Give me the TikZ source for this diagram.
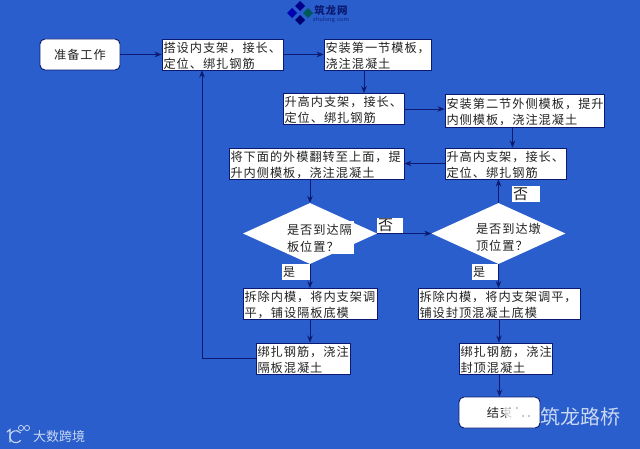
\documentclass[tikz,border=0pt]{standalone}
\usepackage{fontspec}
\usepackage{xcolor}
\usetikzlibrary{arrows.meta,shapes.geometric}
\newfontfamily\cjk[LetterSpace=8]{Noto Sans CJK SC}
\newfontfamily\cjkplain{Noto Sans CJK SC}
\definecolor{pagebg}{HTML}{2A5ECC}
\definecolor{navyline}{HTML}{0B1A70}
\definecolor{inktext}{HTML}{222222}
\definecolor{markpale}{HTML}{C9D8F2}
\newcommand{\zhcomma}{\char"FF0C\relax}
\newcommand{\zhask}{\char"FF1F\relax}
\tikzset{
  procbox/.style 2 args={draw=navyline, fill=white, line width=0.9pt, inner xsep=1.5pt, inner ysep=0pt,
    text width={#1pt-3pt}, minimum height=#2pt, align=left, text=inktext,
    font=\cjk\fontsize{12.2}{16}\selectfont},
  termbox/.style 2 args={draw=navyline, fill=white, line width=0.9pt, rounded corners=5pt, inner sep=0pt,
    minimum width=#1pt, minimum height=#2pt, text=inktext, font=\cjk\fontsize{12.2}{16}\selectfont},
  decision/.style={diamond, fill=white, inner sep=0pt, minimum width=134pt, minimum height=61pt},
  asktext/.style={inner sep=0pt, text width=67pt, align=left, text=inktext,
    font=\cjk\fontsize{12.2}{17}\selectfont},
  tagbox/.style 2 args={fill=white, inner xsep=1pt, inner ysep=0pt, minimum width=#1pt, minimum height=#2pt,
    text width={#1pt-2pt}, align=left, text=inktext},
  flow/.style={draw=navyline, line width=0.9pt, -{Stealth[length=7pt,width=5.5pt]}},
  markpen/.style={draw=markpale, line width=1.1pt, line cap=round}
}
\newcommand{\flowbox}[6]{%
  \node[procbox={#4}{#5}] (#1) at (#2,#3) {\rule{0pt}{13pt}#6};
}
\begin{document}
\begin{tikzpicture}[x=1pt,y=-1pt]
  \fill[pagebg] (0,0) rectangle (640,449);
  \useasboundingbox (0,0) rectangle (640,449);

  \node[termbox={80}{31}] (prep) at (80,54.5) {准备工作};
  \flowbox{erect}{222.5}{54.5}{121}{31}{搭设内支架\zhcomma 接长、\\定位、绑扎钢筋}
  \flowbox{first}{377.5}{54.5}{107}{31}{安装第一节模板\zhcomma\\浇注混凝土}
  \flowbox{liftone}{343.5}{109}{121}{31}{升高内支架\zhcomma 接长、\\定位、绑扎钢筋}
  \flowbox{second}{524.5}{110.5}{159}{33}{安装第二节外侧模板\zhcomma 提升\\内侧模板\zhcomma 浇注混凝土}
  \flowbox{lifttwo}{505.5}{163.5}{121}{31}{升高内支架\zhcomma 接长、\\定位、绑扎钢筋}
  \flowbox{flip}{316.5}{163.5}{175}{31}{将下面的外模翻转至上面\zhcomma 提\\升内侧模板\zhcomma 浇注混凝土}

  \node[decision] (asklow) at (310,233.5) {};
  \node[decision] (asktop) at (498.5,233.5) {};
  \node[asktext, fill=white, minimum height=33pt] (asklowtext) at (320.5,238) {是否到达隔\\板位置\zhask};
  \node[asktext] (asktoptext) at (509.5,237) {是否到达墩\\顶位置\zhask};

  \flowbox{striplow}{310}{304}{134}{31}{拆除内模\zhcomma 将内支架调\\平\zhcomma 铺设隔板底模}
  \flowbox{barlow}{303}{358.5}{94}{31}{绑扎钢筋\zhcomma 浇注\\隔板混凝土}
  \flowbox{striptop}{499}{304}{162}{31}{拆除内模\zhcomma 将内支架调平\zhcomma\\铺设封顶混凝土底模}
  \flowbox{bartop}{505.5}{358.5}{93}{31}{绑扎钢筋\zhcomma 浇注\\封顶混凝土}
  \node[termbox={81}{31}] (finish) at (499.5,412.5) {结束};
  \coordinate (back) at (202,358.5);

  \draw[flow] (prep.east) -- (erect.west);
  \draw[flow] (erect.east) -- (first.west);
  \draw[flow] ([xshift=-13.5pt]first.south) -- ([xshift=20.5pt]liftone.north);
  \draw[flow] (liftone.east) -- (liftone.east -| second.west);
  \draw[flow] ([xshift=-12pt]second.south) -- ([xshift=7pt]lifttwo.north);
  \draw[flow] (lifttwo.west) -- (flip.east);
  \draw[flow] (asklow.north |- flip.south) -- (asklow.north);
  \draw[flow] (asklow.east) -- (asktop.west);
  \draw[flow] (asktop.north) -- (asktop.north |- lifttwo.south);
  \draw[flow] (asklow.south) -- (striplow.north);
  \draw[flow] (striplow.south) -- (striplow.south |- barlow.north);
  \draw[flow] (asktop.south) -- (asktop.south |- striptop.north);
  \draw[flow] (striptop.south) -- (striptop.south |- bartop.north);
  \draw[flow] (finish.north |- bartop.south) -- (finish.north);
  \draw[flow] (barlow.west) -- (back) -- (back |- erect.south);

  \node[tagbox={26}{15}, font=\cjkplain\fontsize{15}{15}\selectfont] (nolow) at (390,225.5) {否};
  \node[tagbox={28}{16}, font=\cjkplain\fontsize{15}{16}\selectfont] (notop) at (526,194) {否};
  \node[tagbox={28}{16}, font=\cjkplain\fontsize{12}{16}\selectfont] (yeslow) at (296,272) {是};
  \node[tagbox={26}{16}, font=\cjkplain\fontsize{12}{16}\selectfont] (yestop) at (485,272) {是};

  \foreach \px/\py/\tint in {300/6/blue!55!black,292/13/blue!70!black,308/13/teal!70!black,300/20/blue!45!black}{%
    \fill[\tint] (\px-5,\py) -- (\px,\py-5) -- (\px+5,\py) -- (\px,\py+5) -- cycle;
  }
  \node[text=navyline, inner sep=0pt, font=\cjk\bfseries\fontsize{10.5}{11}\selectfont] (sitename) at (331,10.5) {筑龙网};
  \node[text=navyline!80!pagebg, inner sep=0pt, font=\sffamily\fontsize{6.5}{7}\selectfont] (siteurl) at (331,20) {zhulong.com};

  \draw[markpen] (7,432) -- (10,429.5) -- (10,442);
  \draw[markpen] (20.5,440.5) arc (40:320:6);
  \foreach \cx in {21,27}{%
    \draw[markpen, line width=0.7pt] (\cx,428) circle (2.6);
  }
  \node[text=markpale, inner sep=0pt, font=\cjkplain\fontsize{13}{13}\selectfont] (agency) at (59,437) {大数跨境};

  \node[text=markpale, inner sep=0pt, font=\cjkplain\fontsize{20}{20}\selectfont] (channel) at (580,416.5) {筑龙路桥};
  \fill[white, opacity=0.75] (514,410) ellipse (11 and 9);
  \fill[white, opacity=0.95] (526,417) ellipse (9.5 and 8);
  \foreach \dx/\dy in {510/408,517/408,523/416,529/416}{%
    \fill[markpale!70!black] (\dx,\dy) circle (0.9);
  }
\end{tikzpicture}
\end{document}
